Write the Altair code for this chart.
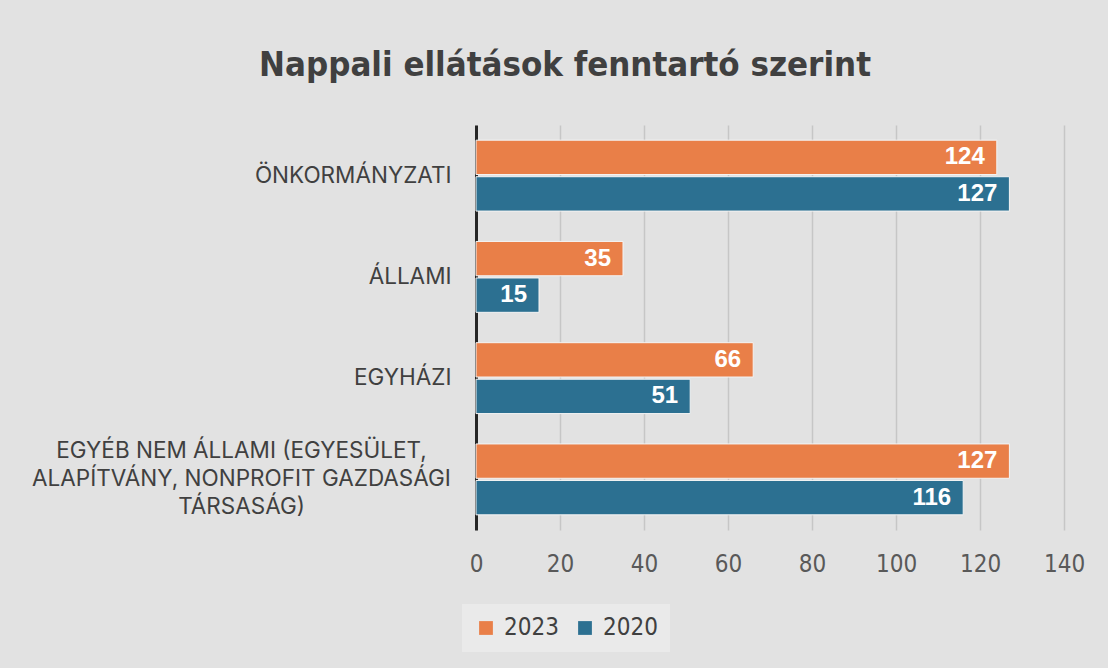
import altair as alt
import pandas as pd

categories = [
    "ÖNKORMÁNYZATI",
    "ÁLLAMI",
    "EGYHÁZI",
    "EGYÉB NEM ÁLLAMI (EGYESÜLET, ALAPÍTVÁNY, NONPROFIT GAZDASÁGI TÁRSASÁG)",
]
long_label_lines = ["EGYÉB NEM ÁLLAMI (EGYESÜLET,", "ALAPÍTVÁNY, NONPROFIT GAZDASÁGI", "TÁRSASÁG)"]
years = ["2023", "2020"]
values_2023 = [124, 35, 66, 127]
values_2020 = [127, 15, 51, 116]
x_ticks = [0, 20, 40, 60, 80, 100, 120, 140]
colors = ["#E97F48", "#2C7091"]

rows = []
for c, v23, v20 in zip(categories, values_2023, values_2020):
    rows.append({"cat": c, "year": "2023", "value": v23})
    rows.append({"cat": c, "year": "2020", "value": v20})
df = pd.DataFrame(rows)

long_cat = categories[3]
lines_js = "[" + ", ".join("'" + s + "'" for s in long_label_lines) + "]"
label_expr = f"datum.value == '{long_cat}' ? {lines_js} : datum.label"
is_long = f"datum.value == '{long_cat}'"

narrow_font = "DejaVu Sans Condensed, Liberation Sans"

y_enc = alt.Y(
    "cat:N",
    sort=categories,
    title=None,
    scale=alt.Scale(paddingInner=0.3, paddingOuter=0.15),
    axis=alt.Axis(
        domain=True,
        domainColor="#262626",
        domainWidth=3,
        ticks=False,
        grid=False,
        labelExpr=label_expr,
        labelFont="Inter",
        labelFontSize=22.5,
        labelColor="#404040",
        labelLineHeight=28,
        labelLimit=600,
        labelAlign={"condition": {"test": is_long, "value": "center"}, "value": "right"},
        labelPadding={"condition": {"test": is_long, "value": 235}, "value": 25},
        labelOffset={"condition": {"test": is_long, "value": -28}, "value": 0},
    ),
)

x_enc = alt.X(
    "value:Q",
    title=None,
    scale=alt.Scale(domain=[0, 140], nice=False),
    axis=alt.Axis(
        values=x_ticks,
        domain=False,
        ticks=False,
        grid=True,
        gridColor="#c6c6c6",
        gridWidth=1.5,
        labelFont=narrow_font,
        labelFontSize=24,
        labelColor="#595959",
        labelPadding=22,
        labelFlush=False,
    ),
)

color_enc = alt.Color(
    "year:N",
    sort=years,
    scale=alt.Scale(domain=years, range=colors),
    legend=alt.Legend(
        title=None,
        orient="none",
        direction="horizontal",
        legendX=-14,
        legendY=479,
        symbolType="square",
        symbolSize=190,
        symbolStrokeWidth=0,
        labelFont=narrow_font,
        labelFontSize=24,
        labelColor="#404040",
        labelOffset=6,
        columnPadding=14,
        padding=12,
        fillColor="#eaeaea",
    ),
)

base = alt.Chart(df).encode(
    y=y_enc,
    yOffset=alt.YOffset("year:N", sort=years, scale=alt.Scale(paddingInner=0.06)),
)

bars = base.mark_bar(stroke="#f4f4f4", strokeWidth=1).encode(x=x_enc, color=color_enc)

labels = base.mark_text(
    align="right",
    baseline="middle",
    dx=-12,
    font="Liberation Sans",
    fontWeight="bold",
    fontSize=24,
    color="white",
).encode(x=alt.X("value:Q"), text=alt.Text("value:Q"))

chart = (
    alt.layer(bars, labels)
    .properties(
        width=588,
        height=405,
        padding={"left": 476, "top": 125, "right": 44, "bottom": 138},
        autosize=alt.AutoSizeParams(type="none"),
        background="#e2e2e2",
        title=alt.TitleParams(
            "Nappali ellátások fenntartó szerint",
            font=narrow_font,
            fontSize=34.5,
            fontWeight="bold",
            color="#404040",
            anchor="middle",
            frame="group",
            dx=-205,
            offset=42,
        ),
    )
    .configure_view(stroke=None)
)

chart.save("out.html", embed_options={"renderer": "svg", "actions": False})
